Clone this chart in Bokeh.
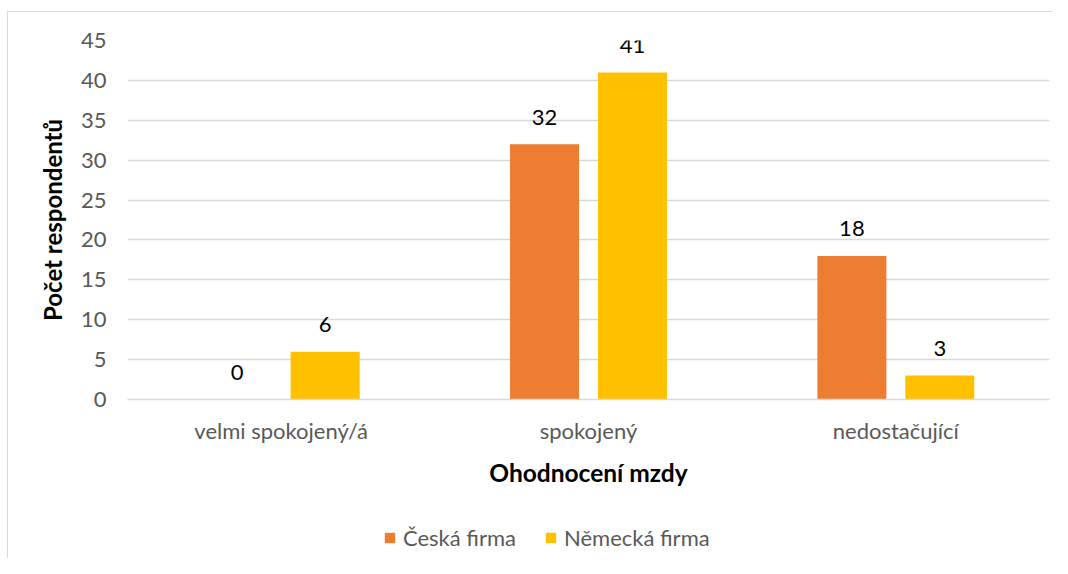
from bokeh.plotting import figure
from bokeh.models import ColumnDataSource, Legend, LegendItem, FixedTicker, Range1d
from bokeh.layouts import column
from bokeh.transform import dodge
from bokeh.core.properties import value
from bokeh.embed import file_html
from bokeh.resources import INLINE

categories = ["velmi spokojený/á", "spokojený", "nedostačující"]
ceska = [0, 32, 18]
nemecka = [6, 41, 3]
series_names = ["Česká firma", "Německá firma"]
y_ticks = [0, 5, 10, 15, 20, 25, 30, 35, 40, 45]
colors = ["#ED7D31", "#FFC000"]

FONT = "Lato"
W = 1052
H_MAIN = 500
H_LEG = 58

src = ColumnDataSource(dict(
    cat=categories,
    ceska=ceska,
    nemecka=nemecka,
    ceska_lbl=[str(v) for v in ceska],
    nemecka_lbl=[str(v) for v in nemecka],
))

p = figure(x_range=categories, y_range=Range1d(0, 45), width=W, height=H_MAIN,
           output_backend="svg", toolbar_location=None,
           min_border_left=127, min_border_right=3, min_border_top=40,
           min_border_bottom=H_MAIN - 399)
p.title.visible = False
p.outline_line_color = None
p.background_fill_color = "white"
p.border_fill_alpha = 0

off = 0.143
bw = 0.2245
r1 = p.vbar(x=dodge("cat", -off, range=p.x_range), top="ceska", width=bw, source=src,
            fill_color=colors[0], line_color=None)
r2 = p.vbar(x=dodge("cat", off, range=p.x_range), top="nemecka", width=bw, source=src,
            fill_color=colors[1], line_color=None)

p.text(x=dodge("cat", -off, range=p.x_range), y="ceska", text="ceska_lbl", source=src,
       text_font=value(FONT), text_font_size="22px", text_color="#000000",
       text_align="center", text_baseline="middle", y_offset=-27)
p.text(x=dodge("cat", off, range=p.x_range), y="nemecka", text="nemecka_lbl", source=src,
       text_font=value(FONT), text_font_size="22px", text_color="#000000",
       text_align="center", text_baseline="middle", y_offset=-27)

p.xgrid.visible = False
p.ygrid.grid_line_color = "#d9d9d9"
p.ygrid.grid_line_width = 1.3

p.yaxis.ticker = FixedTicker(ticks=y_ticks)
p.yaxis.axis_line_color = None
p.yaxis.major_tick_line_color = None
p.yaxis.minor_tick_line_color = None
p.yaxis.major_label_text_font = FONT
p.yaxis.major_label_text_font_size = "22px"
p.yaxis.major_label_text_color = "#595959"
p.yaxis.major_label_standoff = 15
p.yaxis.axis_label = "Počet respondentů"
p.yaxis.axis_label_text_font = FONT
p.yaxis.axis_label_text_font_size = "24px"
p.yaxis.axis_label_text_font_style = "bold"
p.yaxis.axis_label_text_color = "#000000"
p.yaxis.axis_label_standoff = 11

p.xaxis.axis_line_color = "#d9d9d9"
p.xaxis.axis_line_width = 1.3
p.xaxis.major_tick_line_color = None
p.xaxis.minor_tick_line_color = None
p.xaxis.major_label_text_font = FONT
p.xaxis.major_label_text_font_size = "22px"
p.xaxis.major_label_text_color = "#595959"
p.xaxis.major_label_standoff = 11
p.xaxis.axis_label = "Ohodnocení mzdy"
p.xaxis.axis_label_text_font = FONT
p.xaxis.axis_label_text_font_size = "24.5px"
p.xaxis.axis_label_text_font_style = "bold"
p.xaxis.axis_label_text_color = "#000000"
p.xaxis.axis_label_standoff = 11

# legend strip below the chart (its bars sit outside the visible y range)
p2 = figure(width=W, height=H_LEG, x_range=p.x_range, y_range=Range1d(100, 101),
            output_backend="svg", toolbar_location=None,
            x_axis_location=None, y_axis_location=None,
            min_border_left=127, min_border_right=3, min_border_top=0, min_border_bottom=0)
p2.title.visible = False
p2.outline_line_color = None
p2.background_fill_alpha = 0
p2.border_fill_alpha = 0
p2.grid.visible = False
lr1 = p2.vbar(x=dodge("cat", -off, range=p.x_range), top="ceska", width=bw, source=src,
              fill_color=colors[0], line_color=None)
lr2 = p2.vbar(x=dodge("cat", off, range=p.x_range), top="nemecka", width=bw, source=src,
              fill_color=colors[1], line_color=None)

legend = Legend(items=[LegendItem(label=series_names[0], renderers=[lr1]),
                       LegendItem(label=series_names[1], renderers=[lr2])],
                orientation="horizontal", location=(256, 7),
                border_line_color=None, background_fill_alpha=0,
                glyph_width=13, glyph_height=13, label_standoff=7, spacing=28,
                padding=0, margin=0,
                label_text_font=FONT, label_text_font_size="22px",
                label_text_color="#595959")
p2.add_layout(legend, "center")

layout = column(p, p2, spacing=0, styles={
    "background": ("linear-gradient(#d9d9d9,#d9d9d9) 7px 11px / 1px 100% no-repeat, "
                   "linear-gradient(#d9d9d9,#d9d9d9) 7px 11px / 100% 1px no-repeat, white"),
})

open("out.html", "w").write(file_html(layout, INLINE))
